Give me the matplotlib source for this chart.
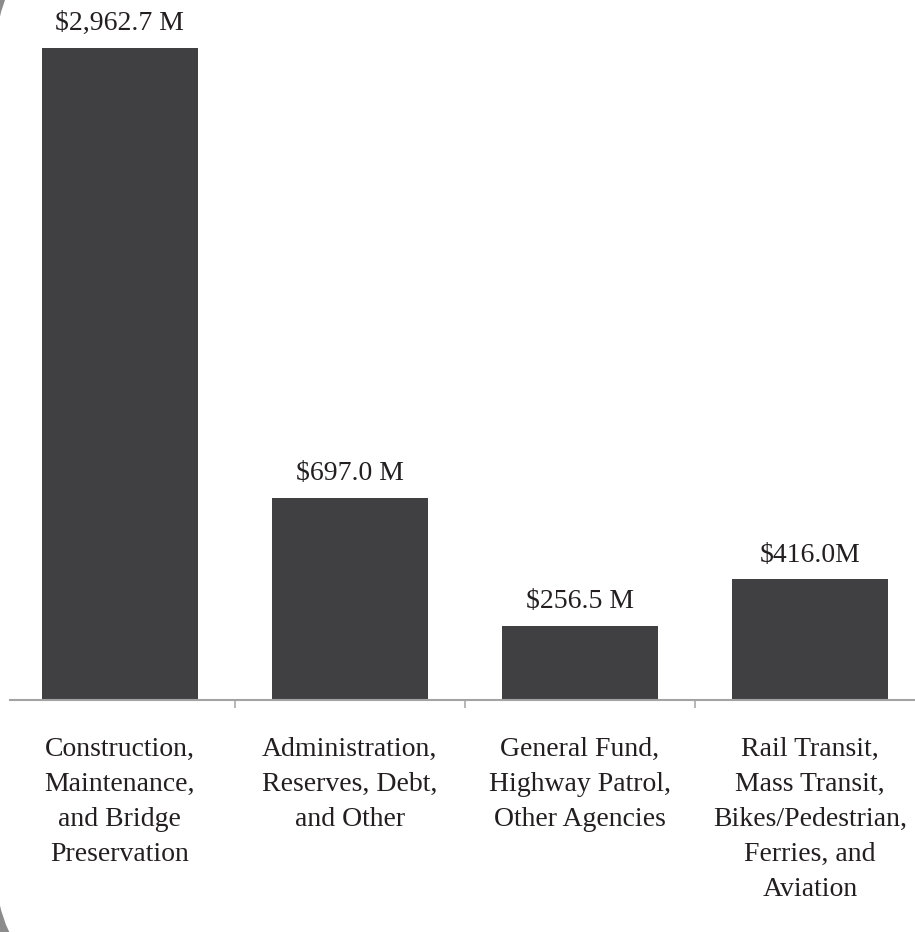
import matplotlib
matplotlib.use("Agg")
import matplotlib.pyplot as plt
from matplotlib.patches import FancyBboxPatch

# spending by program area, millions of dollars
categories = [
    "Construction,\nMaintenance,\nand Bridge\nPreservation",
    "Administration,\nReserves, Debt,\nand Other",
    "General Fund,\nHighway Patrol,\nOther Agencies",
    "Rail Transit,\nMass Transit,\nBikes/Pedestrian,\nFerries, and\nAviation",
]
values = [2962.7, 697.0, 256.5, 416.0]
value_labels = ["$2,962.7 M", "$697.0 M", "$256.5 M", "$416.0M"]

W, H = 915, 932
fig = plt.figure(figsize=(W / 100, H / 100), dpi=100)
fig.patch.set_facecolor("#8c8c8c")
plt.rcParams["font.family"] = ["Liberation Serif", "DejaVu Serif"]

# white rounded panel behind the chart
bg = fig.add_axes([0, 0, 1, 1])
bg.set_xlim(0, W)
bg.set_ylim(H, 0)
bg.axis("off")
bg.add_patch(FancyBboxPatch((-6, -80), W + 200, H + 150,
                            boxstyle="round,pad=0,rounding_size=150",
                            facecolor="white", edgecolor="none"))

# axes: baseline at y=700px, top at y=48px
left, right, top, base = 10, W, 48, 700
ax = fig.add_axes([left / W, 1 - base / H, (right - left) / W, (base - top) / H])
ax.patch.set_alpha(0)

x = list(range(len(values)))
ax.bar(x, values, width=0.678, color="#404042", zorder=2)
ax.set_xlim(-0.478, 3.457)
ax.set_ylim(0, 2250)

text_color = "#231f20"
for xi, v, lab in zip(x, values, value_labels):
    y = min(v, ax.get_ylim()[1])
    ax.annotate(lab, (xi, y), xytext=(0, 8.5), textcoords="offset points",
                ha="center", va="bottom", fontsize=20, color=text_color,
                annotation_clip=False)

for xi, cat in zip(x, categories):
    ax.text(xi, -0.057, cat, transform=ax.get_xaxis_transform(),
            ha="center", va="top", fontsize=20, color=text_color,
            linespacing=1.53)

for s in ["top", "left", "right"]:
    ax.spines[s].set_visible(False)
ax.spines["bottom"].set_color("#a3a3a3")
ax.spines["bottom"].set_linewidth(1.5)
ax.set_yticks([])
ax.set_xticks([0.5, 1.5, 2.5])
ax.set_xticklabels([])
ax.tick_params(axis="x", direction="out", length=6, width=1.1, color="#a3a3a3")

fig.savefig("out.png", dpi=100, facecolor=fig.get_facecolor())
